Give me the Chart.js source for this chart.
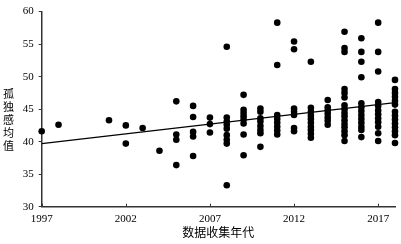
<!DOCTYPE html>
<html>
<head>
<meta charset="utf-8">
<script src="https://cdn.jsdelivr.net/npm/chart.js@4.4.0/dist/chart.umd.min.js"></script>
<style>
html,body{margin:0;padding:0;background:#fff;}
#wrap{width:401px;height:244px;position:relative;}
</style>
</head>
<body>
<div id="wrap"><canvas id="c" width="401" height="244"></canvas></div>
<script>
// ---- data ----
const years = [1997, 1998, 2001, 2002, 2003, 2004, 2005, 2006, 2007, 2008, 2009, 2010, 2011, 2012, 2013, 2014, 2015, 2016, 2017, 2018];
const values = [
  [41.6],
  [42.6],
  [43.3],
  [42.5, 39.7],
  [42.1],
  [38.6],
  [46.2, 41.1, 40.3, 36.4],
  [45.5, 43.8, 41.5, 40.8, 37.8],
  [43.7, 42.7, 41.4],
  [54.6, 43.7, 43.1, 42.6, 42.0, 41.0, 40.3, 39.7, 33.3],
  [47.2, 44.9, 44.4, 43.9, 43.4, 42.8, 41.1, 37.9],
  [45.1, 44.6, 43.6, 43.1, 42.4, 41.8, 41.3, 39.2],
  [58.3, 51.8, 44.1, 43.5, 42.9, 42.3, 41.7, 41.1],
  [55.4, 54.2, 45.1, 44.6, 44.1, 42.1, 41.6],
  [52.3, 45.2, 44.6, 44.0, 43.5, 42.9, 42.3, 41.8, 41.2, 40.6],
  [46.4, 45.3, 44.8, 44.3, 43.7, 43.2, 42.6],
  [56.9, 54.4, 53.8, 48.1, 47.5, 46.8, 45.6, 45.0, 44.4, 43.9, 43.3, 42.7, 42.2, 41.6, 41.0, 40.1],
  [55.9, 53.8, 52.3, 49.9, 45.9, 45.3, 44.7, 44.1, 43.5, 42.9, 42.3, 41.8, 40.7],
  [58.3, 53.8, 50.8, 46.1, 45.5, 44.8, 44.2, 43.6, 43.0, 42.3, 41.3, 40.1],
  [49.5, 48.1, 47.5, 46.9, 46.3, 45.7, 44.6, 44.0, 43.4, 42.8, 42.2, 41.6, 41.0, 39.8]
];
const trendX = [1997, 2018];
const trendY = [39.7, 46.0];
const xTicks = [1997, 2002, 2007, 2012, 2017];
const yTicks = [30, 35, 40, 45, 50, 55, 60];
const xTitle = '数据收集年代';
const yTitle = '孤独感均值';

const points = [];
years.forEach((yr, i) => values[i].forEach(v => points.push({x: yr, y: v})));
const trend = trendX.map((x, i) => ({x: x, y: trendY[i]}));

const tickFont = {family: '"Liberation Serif", "DejaVu Serif", serif', size: 11};

const extras = {
  id: 'extras',
  afterDraw(chart) {
    const ctx = chart.ctx;
    const xs = chart.scales.x, ys = chart.scales.y;
    const area = chart.chartArea;
    ctx.save();
    // inward ticks on x axis
    ctx.strokeStyle = '#333';
    ctx.lineWidth = 1;
    xTicks.forEach(t => {
      const px = Math.round(xs.getPixelForValue(t)) + 0.5;
      ctx.beginPath();
      ctx.moveTo(px, area.bottom);
      ctx.lineTo(px, area.bottom - 3);
      ctx.stroke();
    });
    // vertical stacked y title
    ctx.fillStyle = '#000';
    ctx.font = '11px "Noto Sans CJK SC", sans-serif';
    ctx.textAlign = 'center';
    ctx.textBaseline = 'middle';
    const chars = Array.from(yTitle);
    const step = 13;
    const cy = (area.top + area.bottom) / 2 + 11;
    const y0 = cy - step * (chars.length - 1) / 2;
    chars.forEach((ch, i) => ctx.fillText(ch, 8.5, y0 + i * step));
    ctx.restore();
  }
};

new Chart(document.getElementById('c'), {
  type: 'scatter',
  data: {
    datasets: [
      {
        type: 'line',
        data: trend,
        borderColor: '#000',
        borderWidth: 1.2,
        pointRadius: 0,
        fill: false,
        tension: 0,
        order: 2
      },
      {
        data: points,
        backgroundColor: '#000',
        borderWidth: 0,
        pointRadius: 3.3,
        clip: false,
        order: 1
      }
    ]
  },
  options: {
    responsive: false,
    animation: false,
    devicePixelRatio: 1,
    layout: {padding: {top: 8, right: 6, left: 0, bottom: 0}},
    plugins: {legend: {display: false}, tooltip: {enabled: false}},
    scales: {
      x: {
        type: 'linear',
        min: 1997,
        max: 2018,
        afterBuildTicks: s => { s.ticks = xTicks.map(v => ({value: v})); },
        afterFit: s => { s.height = 37.3; },
        grid: {display: true, drawOnChartArea: false, drawTicks: false},
        border: {display: true, color: '#333', width: 1.5},
        ticks: {color: '#000', font: tickFont, padding: 6, maxRotation: 0, callback: v => String(v)},
        title: {display: true, text: xTitle, color: '#000',
                font: {family: '"Noto Sans CJK SC", sans-serif', size: 12},
                padding: {top: 0, bottom: 4}}
      },
      y: {
        min: 30,
        max: 60,
        afterBuildTicks: s => { s.ticks = yTicks.map(v => ({value: v})); },
        afterFit: s => { s.width = 41.7; },
        grid: {display: true, drawOnChartArea: false, drawTicks: true, tickLength: 3, color: '#333'},
        border: {display: true, color: '#333', width: 1.5},
        ticks: {color: '#000', font: tickFont, padding: 5}
      }
    }
  },
  plugins: [extras]
});
</script>
</body>
</html>
